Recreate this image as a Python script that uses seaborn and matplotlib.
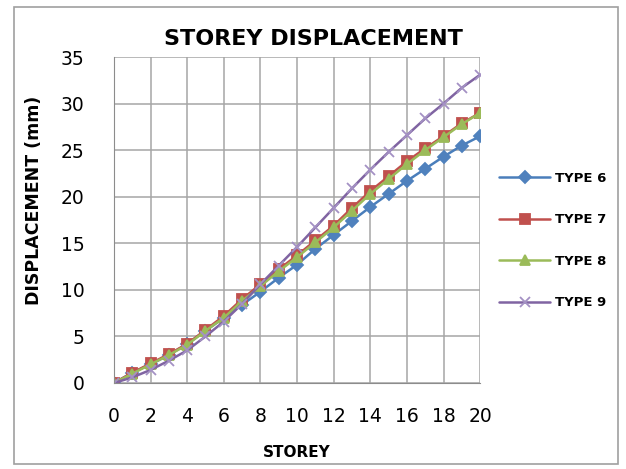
import numpy as np
import pandas as pd
import seaborn as sns
from matplotlib import pyplot as plt
from matplotlib.patches import Rectangle

storey = list(range(21))
type_6 = [0, 1.1, 2.0, 3.0, 4.2, 5.6, 7.0, 8.4, 9.8, 11.3, 12.7, 14.4, 15.9, 17.4, 18.9, 20.3, 21.7, 23.0, 24.3, 25.5, 26.5]
type_7 = [0, 1.1, 2.1, 3.1, 4.2, 5.7, 7.2, 9.0, 10.6, 12.2, 13.7, 15.3, 16.9, 18.8, 20.6, 22.2, 23.8, 25.2, 26.5, 27.9, 29.0]
type_8 = [0, 1.0, 2.0, 3.0, 4.1, 5.6, 7.0, 8.8, 10.4, 12.0, 13.5, 15.1, 16.7, 18.5, 20.3, 21.9, 23.5, 25.0, 26.4, 27.8, 29.0]
type_9 = [0, 0.6, 1.4, 2.4, 3.5, 5.0, 6.6, 8.5, 10.6, 12.6, 14.6, 16.7, 18.8, 20.9, 22.9, 24.8, 26.6, 28.4, 30.0, 31.7, 33.1]
series_names = ["TYPE 6", "TYPE 7", "TYPE 8", "TYPE 9"]

df = pd.DataFrame({"storey": storey, "TYPE 6": type_6, "TYPE 7": type_7,
                   "TYPE 8": type_8, "TYPE 9": type_9})
df_long = df.melt(id_vars="storey", var_name="type", value_name="disp")

sns.set_style("white")
plt.rcParams["font.family"] = ["DejaVu Sans"]
plt.rcParams.update({"text.color": "black", "axes.labelcolor": "black",
                     "xtick.labelcolor": "black", "ytick.labelcolor": "black"})

styles = {
    "TYPE 6": dict(color="#4A7EBB", marker="D", ms=8.5, lw=2.2, mfc="#4F81BD", mec="#4F81BD"),
    "TYPE 7": dict(color="#C0504D", marker="s", ms=10, lw=2.2, mfc="#C0504D", mec="#C0504D"),
    "TYPE 8": dict(color="#9BBB59", marker="^", ms=11, lw=2.2, mfc="#9BBB59", mec="#9BBB59"),
    "TYPE 9": dict(color="#8064A2", marker="x", ms=11, lw=3.6, mfc="#8064A2", mec="#A491C4"),
}

fig = plt.figure(figsize=(6.26, 4.69), dpi=100)
ax = fig.add_axes([0.182, 0.1834, 0.585, 0.695])

for name in series_names:
    st = styles[name]
    sns.lineplot(
        data=df_long[df_long["type"] == name], x="storey", y="disp", ax=ax,
        errorbar=None, color=st["color"], linewidth=st["lw"],
        marker=st["marker"], markersize=st["ms"],
        markerfacecolor=st["mfc"], markeredgecolor=st["mec"], markeredgewidth=1.3,
        label=name, legend=False,
    )

ax.set_xlim(0, 20)
ax.set_ylim(0, 35)
ax.set_xticks(range(0, 21, 2))
ax.set_yticks(range(0, 36, 5))
ax.grid(True, color="#a6a6a6", lw=1.1)
for side in ["top", "right"]:
    ax.spines[side].set_visible(False)
for side in ["left", "bottom"]:
    ax.spines[side].set_color("#8c8c8c")
ax.tick_params(axis="y", direction="out", length=6, color="#8c8c8c", labelsize=13.5, pad=15)
ax.tick_params(axis="x", direction="out", length=5, color="#8c8c8c", labelsize=13.5, pad=12)
ax.set_xlabel("STOREY", fontsize=11, fontweight="bold", labelpad=14)
ax.set_ylabel("DISPLACEMENT (mm)", fontsize=12.5, fontweight="bold")
ax.yaxis.set_label_coords(-0.195, 0.56)
ax.set_title("STOREY DISPLACEMENT", fontsize=16, fontweight="bold", pad=9, x=0.546)

handles, labels = ax.get_legend_handles_labels()
for h in handles:
    h.set_linewidth(1.8)
    h.set_markersize(h.get_markersize() * 0.7)
fig.legend(handles, labels, loc="center left", bbox_to_anchor=(0.778, 0.487),
           frameon=False, labelspacing=2.15, handlelength=3.9,
           handletextpad=0.35, prop={"weight": "bold", "size": 9.5})

fig.patches.append(Rectangle((0.022, 0.01), 0.965, 0.975, transform=fig.transFigure,
                             fill=False, edgecolor="#a0a0a0", lw=1.2))

fig.savefig("out.png", dpi=100)
